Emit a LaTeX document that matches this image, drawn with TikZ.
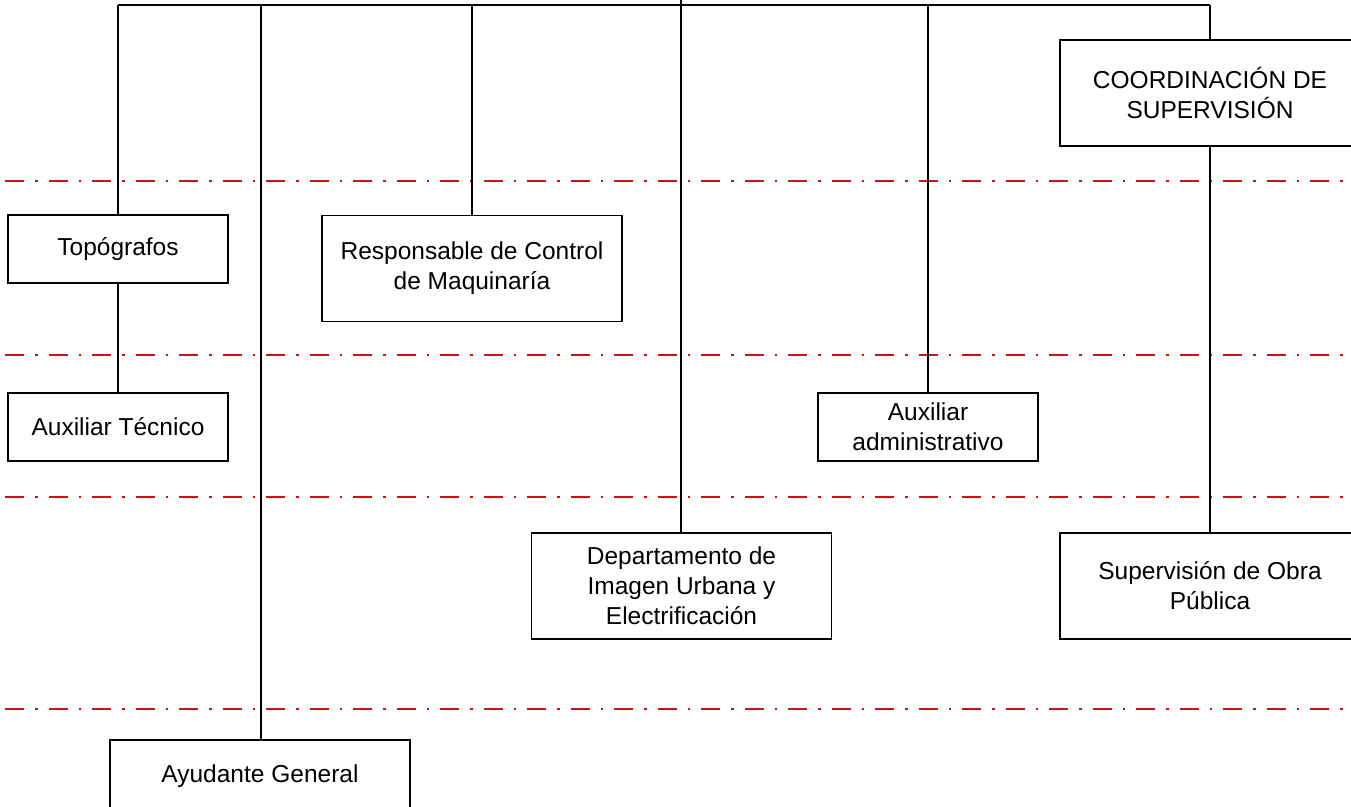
\documentclass[tikz,border=0pt]{standalone}
\usepackage{fontspec}
\setmainfont{Liberation Sans}
\definecolor{guide}{RGB}{200,20,20}
\tikzset{
  box/.style={draw=black, line width=1.8pt, fill=white, align=center,
    font=\fontsize{24.5}{30}\selectfont, inner sep=0pt},
  smallbox/.style={box, minimum width=220pt, minimum height=68pt},
  bigbox/.style={box, minimum width=300pt, minimum height=106pt},
  link/.style={draw=black, line width=1.8pt},
  guideline/.style={draw=guide, line width=2.8pt,
    dash pattern=on 19pt off 11pt on 2.5pt off 11pt}
}
\begin{document}
\begin{tikzpicture}[x=1pt,y=-1pt]
\useasboundingbox (0,0) rectangle (1351,806);
% red guide lines
\foreach \yy in {181,355,497,709} {
  \draw[guideline] (5,\yy) -- (1351,\yy);
}
% bus coordinates
\coordinate (top) at (681,0);
\coordinate (busL) at (118,5);
\coordinate (busA) at (261,5);
\coordinate (busR) at (472,5);
\coordinate (busD) at (681,5);
\coordinate (busX) at (928,5);
\coordinate (busC) at (1210,5);
% nodes
\node[smallbox] (topo) at (118,249) {\raisebox{-2pt}{Topógrafos}};
\node[smallbox] (auxtec) at (118,427) {Auxiliar Técnico};
\node[bigbox] (resp) at (472,268.5) {Responsable de Control\\de Maquinaría};
\node[bigbox] (depto) at (681.5,586) {Departamento de\\Imagen Urbana y\\Electrificación};
\node[smallbox] (auxadm) at (928,427) {Auxiliar\\administrativo};
\node[bigbox] (coord) at (1210,93) {COORDINACIÓN DE\\SUPERVISIÓN};
\node[bigbox] (superv) at (1210,586) {Supervisión de Obra\\Pública};
\node[box, minimum width=300pt, minimum height=72pt] (ayud) at (260,776) {Ayudante General};
% connectors
\draw[link] (busL) -- (busC);
\draw[link] (top) -- (busD);
\draw[link] (busL) -- (topo.north);
\draw[link] (topo.south) -- (auxtec.north);
\draw[link] (busA) -- (busA |- ayud.north);
\draw[link] (busR) -- (resp.north);
\draw[link] (busD) -- (busD |- depto.north);
\draw[link] (busX) -- (auxadm.north);
\draw[link] (busC) -- (coord.north);
\draw[link] (coord.south) -- (superv.north);
\end{tikzpicture}
\end{document}
